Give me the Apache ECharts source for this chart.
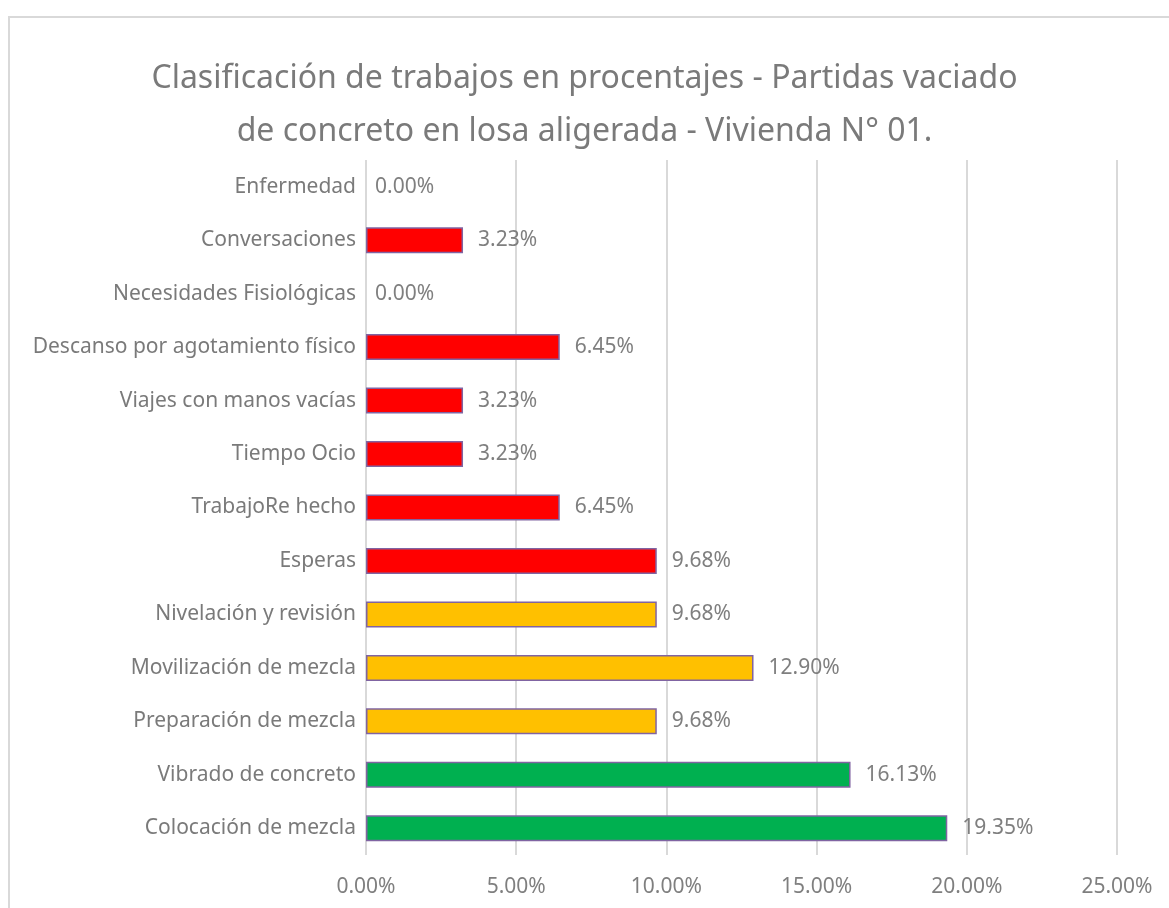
<!DOCTYPE html>
<html>
<head>
<meta charset="utf-8">
<script src="https://cdn.jsdelivr.net/npm/echarts@6/dist/echarts.min.js"></script>
<style>
html,body{margin:0;padding:0;background:#fff;}
#frame{position:absolute;left:8px;top:16px;width:1200px;height:1000px;border-left:2px solid #d9d9d9;border-top:2px solid #d9d9d9;}
#chart{position:absolute;left:0;top:0;width:1169px;height:908px;}
</style>
</head>
<body>
<div id="frame"></div>
<div id="chart"></div>
<script>
const titleText = "Clasificación de trabajos en procentajes - Partidas vaciado\nde concreto en losa aligerada - Vivienda N° 01.";
// bottom to top
const categories = [
  "Colocación de mezcla",
  "Vibrado de concreto",
  "Preparación de mezcla",
  "Movilización de mezcla",
  "Nivelación y revisión",
  "Esperas",
  "TrabajoRe hecho",
  "Tiempo Ocio",
  "Viajes con manos vacías",
  "Descanso por agotamiento físico",
  "Necesidades Fisiológicas",
  "Conversaciones",
  "Enfermedad"
];
const values = [19.35, 16.13, 9.68, 12.90, 9.68, 9.68, 6.45, 3.23, 3.23, 6.45, 0.00, 3.23, 0.00];
const groups = ["productivo","productivo","contributorio","contributorio","contributorio","no","no","no","no","no","no","no","no"];
const groupColors = {productivo:"#00B050", contributorio:"#FFC000", no:"#FF0000"};
const xTicks = [0, 5, 10, 15, 20, 25];

const chart = echarts.init(document.getElementById('chart'));
const font = "'Noto Sans', 'Open Sans', sans-serif";
chart.setOption({
  animation: false,
  title: {
    text: titleText,
    left: 'center',
    top: 47,
    textStyle: {fontFamily: font, fontSize: 32, fontWeight: 'normal', color: '#7a7a7a', lineHeight: 53}
  },
  grid: {left: 366, right: 52, top: 160, bottom: 53, containLabel: false},
  xAxis: {
    type: 'value',
    min: xTicks[0],
    max: xTicks[xTicks.length-1],
    interval: 5,
    axisLine: {show: false},
    axisTick: {show: false},
    splitLine: {lineStyle: {color: '#d9d9d9', width: 2}},
    axisLabel: {fontFamily: font, fontSize: 21, color: '#7f7f7f', margin: 22,
      formatter: v => v.toFixed(2) + '%'}
  },
  yAxis: {
    type: 'category',
    data: categories,
    axisLine: {show: false},
    axisTick: {show: false},
    axisLabel: {fontFamily: font, fontSize: 21, color: '#7a7a7a', margin: 10}
  },
  series: [{
    type: 'bar',
    barWidth: 26,
    data: values.map((v, i) => ({
      value: v,
      itemStyle: {color: groupColors[groups[i]], borderColor: '#8064A2', borderWidth: v > 0 ? 1.5 : 0},
      label: {distance: v > 0 ? 15 : 9}
    })),
    label: {
      show: true,
      position: 'right',
      fontFamily: font,
      fontSize: 21,
      color: '#7f7f7f',
      formatter: p => p.value.toFixed(2) + '%'
    }
  }]
});
</script>
</body>
</html>
